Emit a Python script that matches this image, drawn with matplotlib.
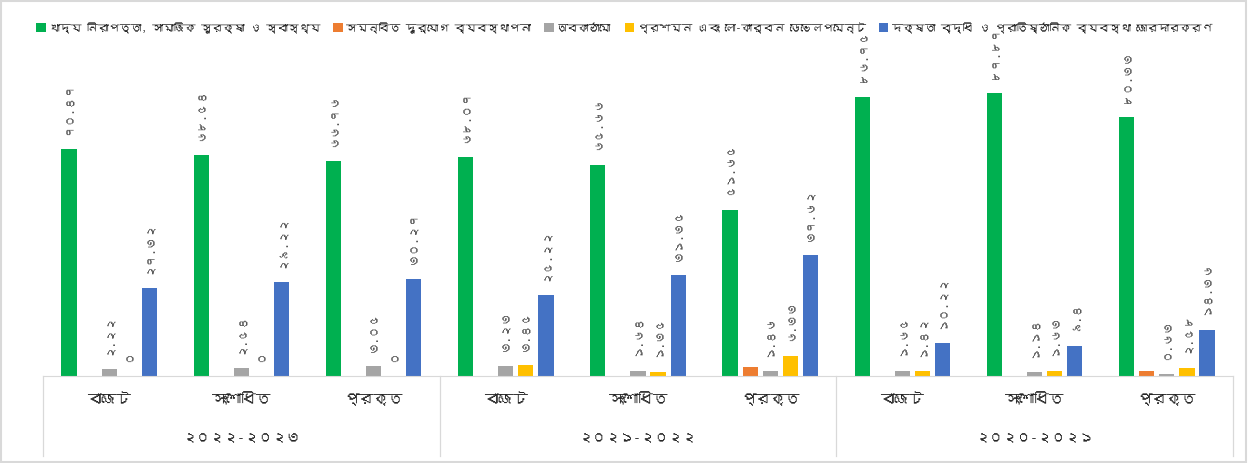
import matplotlib
matplotlib.use("Agg")
import matplotlib.pyplot as plt
from matplotlib import font_manager
from matplotlib.ft2font import FT2Font
from matplotlib.patches import Rectangle
from matplotlib.lines import Line2D
import matplotlib.transforms as mtransforms
import numpy as np


def find_bengali_font():
    """looks for any installed font that has bengali glyphs"""
    for f in font_manager.fontManager.ttflist:
        try:
            cmap = FT2Font(f.fname).get_charmap()
        except Exception:
            continue
        if 0x09A6 in cmap and 0x0995 in cmap:
            return f.name
    return None


bn = find_bengali_font()
families = ([bn] if bn else []) + ["Noto Sans", "DejaVu Sans"]
plt.rcParams["font.family"] = families

# data
series_names = [
    "খাদ্য নিরাপত্তা, সামাজিক সুরক্ষা ও স্বাস্থ্য",
    "সমন্বিত দুর্যোগ ব্যবস্থাপনা",
    "অবকাঠামো",
    "প্রশমন এবং লো-কার্বন ডেভেলপমেন্ট",
    "দক্ষতা বৃদ্ধি ও প্রাতিষ্ঠানিক ব্যবস্থা জোরদারকরণ",
]
colors = ["#00B050", "#ED7D31", "#A5A5A5", "#FFC000", "#4472C4"]

years = ["২০২২-২০২৩", "২০২১-২০২২", "২০২০-২০২১"]
stages = ["বাজেট", "সংশোধিত", "প্রকৃত"]

food_security = [70.47, 68.54, 66.76, 68.07, 65.66, 51.65, 86.75, 87.87, 80.33]
disaster_mgmt = [0, 0, 0, 0, 0, 2.8, 0, 0, 1.5]
infrastructure = [2.22, 2.54, 3.05, 3.23, 1.64, 1.46, 1.65, 1.14, 0.63]
mitigation = [0, 0, 0, 3.45, 1.35, 6.33, 1.42, 1.63, 2.58]
capacity = [27.32, 29.22, 30.27, 25.22, 31.35, 37.62, 10.22, 9.4, 14.36]

all_series = [food_security, disaster_mgmt, infrastructure, mitigation, capacity]
show_labels = [True, False, True, True, True]

bn_digits = str.maketrans("0123456789", "০১২৩৪৫৬৭৮৯")


def bn_num(v):
    return f"{v:g}".translate(bn_digits)


fig = plt.figure(figsize=(12.48, 4.64), dpi=100)
ax = fig.add_axes([43 / 1248, 1 - 377 / 464, 1190 / 1248, 322 / 464])

x = np.arange(9) + 0.5
step = 0.152
width = 0.115
for i, (vals, name, col) in enumerate(zip(all_series, series_names, colors)):
    pos = x + (i - 2) * step
    bars = ax.bar(pos, vals, width=width, color=col, label=name, zorder=2)
    if show_labels[i]:
        for b, v in zip(bars, vals):
            ax.annotate(bn_num(v), (b.get_x() + b.get_width() / 2, v),
                        xytext=(0, 11), textcoords="offset points",
                        rotation=90, ha="center", va="bottom",
                        fontsize=8.5, color="#595959")

ax.set_xlim(0, 9)
ax.set_ylim(0, 100)
ax.set_yticks([])
ax.set_xticks([])
for s in ["left", "right", "top"]:
    ax.spines[s].set_visible(False)
ax.spines["bottom"].set_color("#D9D9D9")

# two level category axis
trans = mtransforms.blended_transform_factory(ax.transData, ax.transAxes)
for k in range(9):
    ax.text(x[k], -23 / 322, stages[k % 3], transform=trans,
            ha="center", va="center", fontsize=10.5, color="#262626")
for g in range(3):
    ax.text(g * 3 + 1.5, -61 / 322, years[g], transform=trans,
            ha="center", va="center", fontsize=10, color="#262626")
for g in range(4):
    ax.add_line(Line2D([g * 3, g * 3], [0, -80 / 322], transform=trans,
                       color="#D9D9D9", lw=0.9, clip_on=False))

fig.legend(loc="center", bbox_to_anchor=(0.5, 1 - 28 / 464), ncol=5,
           frameon=False, fontsize=7.8, handlelength=0.9, handleheight=0.9,
           handletextpad=0.3, columnspacing=1.2, labelcolor="#262626")

fig.patches.append(Rectangle((1 / 1248, 1 / 464), 1245 / 1248, 461 / 464,
                             transform=fig.transFigure, fill=False,
                             edgecolor="#D9D9D9", lw=1.5))

fig.savefig("out.png", dpi=100)
